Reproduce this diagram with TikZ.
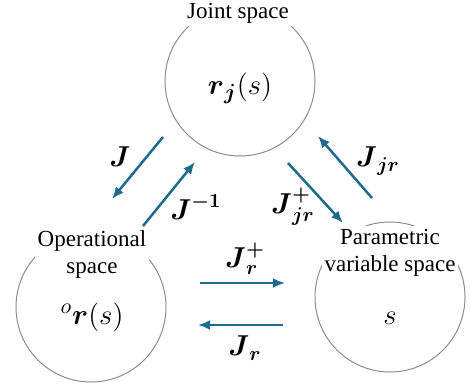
\documentclass[tikz,border=0pt]{standalone}
\usepackage{amsmath}
\usepackage{fontspec}
\setmainfont{Liberation Serif}
\usepackage{tikz}
\usetikzlibrary{arrows.meta,positioning}
\usepackage{xcolor}
\definecolor{mapblue}{HTML}{1F6B8C}
\definecolor{ringgray}{HTML}{8C8C8C}
\tikzset{
  spacering/.style={
    circle,
    draw=ringgray,
    line width=0.5pt,
    minimum size=75pt,
    inner sep=0pt
  },
  spacename/.style={
    fill=white,
    align=center,
    inner sep=1.5pt,
    font=\rmfamily\fontsize{11.5}{13.5}\selectfont
  },
  spacevar/.style={
    font=\fontsize{15.5}{18}\selectfont
  },
  maplabel/.style={
    font=\fontsize{14.5}{17}\selectfont
  },
  maparrow/.style={
    -{Latex[length=6pt,width=5pt]},
    line width=1.25pt,
    draw=mapblue
  }
}

\begin{document}
\begin{tikzpicture}[x=0.5pt,y=-0.5pt]
\useasboundingbox (0,0) rectangle (471,386);
% the three spaces
\node[spacering] (joint) at (240,81) {};
\node[spacering] (oper) at (91,307) {};
\node[spacering] (param) at (390,297) {};
\node[spacename] (jointname) at (238,13) {Joint space};
\node[spacename] (opername) at (92,254) {Operational\\space};
\node[spacename] (paramname) at (390,253) {Parametric\\variable space};
\node[spacevar] (jointvar) at (240,88) {$\boldsymbol{r}_{\boldsymbol{j}}(s)$};
\node[spacevar] (opervar) at (92,317) {${}^{o}\boldsymbol{r}(s)$};
\node[spacevar] (paramvar) at (390,318) {$s$};
% arrow ends
\coordinate (jS) at (163,137);
\coordinate (jE) at (112,199);
\coordinate (jinvS) at (143,226);
\coordinate (jinvE) at (195,162);
\coordinate (jjrpS) at (288,163);
\coordinate (jjrpE) at (343,223);
\coordinate (jjrS) at (372,198);
\coordinate (jjrE) at (318,136);
\coordinate (jrpS) at (200,283);
\coordinate (jrpE) at (285,283);
\coordinate (jrS) at (283,325);
\coordinate (jrE) at (198,325);
\draw[maparrow] (jS) -- (jE);
\draw[maparrow] (jinvS) -- (jinvE);
\draw[maparrow] (jjrpS) -- (jjrpE);
\draw[maparrow] (jjrS) -- (jjrE);
\draw[maparrow] (jrpS) -- (jrpE);
\draw[maparrow] (jrS) -- (jrE);
% labels
\node[maplabel] (jlab) at (120,157) {$\boldsymbol{J}$};
\node[maplabel] (jinvlab) at (196,207) {$\boldsymbol{J}^{\boldsymbol{-1}}$};
\node[maplabel] (jjrplab) at (293,207) {$\boldsymbol{J}_{\boldsymbol{jr}}^{\boldsymbol{+}}$};
\node[maplabel] (jjrlab) at (378,161) {$\boldsymbol{J}_{\boldsymbol{jr}}$};
\node[maplabel] (jrplab) at (245,259) {$\boldsymbol{J}_{\boldsymbol{r}}^{\boldsymbol{+}}$};
\node[maplabel] (jrlab) at (245,348) {$\boldsymbol{J}_{\boldsymbol{r}}$};
\end{tikzpicture}
\end{document}
